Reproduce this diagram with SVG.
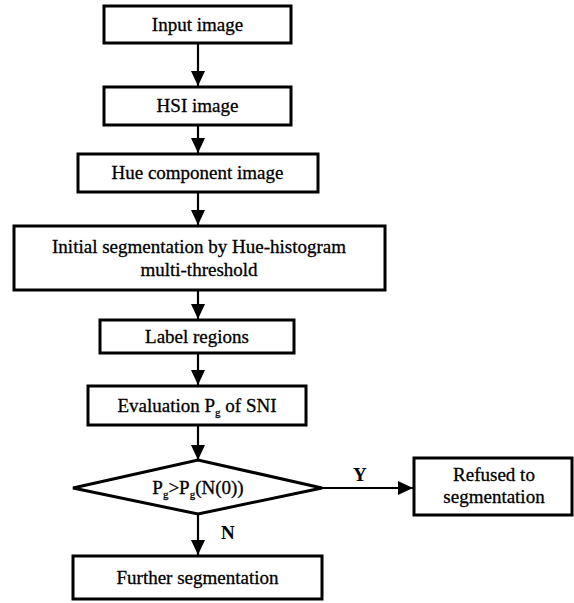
<svg xmlns="http://www.w3.org/2000/svg" width="574" height="603" viewBox="0 0 574 603">
<defs>
<style>
.box{fill:#fff;stroke:#000;stroke-width:3}
.t{font-family:'Liberation Serif','Times New Roman',serif;font-size:19px;fill:#000;stroke:#000;stroke-width:0.3;text-anchor:middle}
.lbl{font-family:'Liberation Serif','Times New Roman',serif;font-size:19px;font-weight:bold;fill:#000}
.sub{font-size:11px}
.c{fill:none;stroke:#000;stroke-width:2.2}
</style>
<marker id="ah" viewBox="0 0 10 10" refX="10" refY="5" markerWidth="15" markerHeight="14" markerUnits="userSpaceOnUse" orient="auto" preserveAspectRatio="none">
<path d="M0,0 L10,5 L0,10 z" fill="#000"/>
</marker>
</defs>
<rect width="574" height="603" fill="#fff"/>
<g id="connectors">
<line class="c" x1="198" y1="44" x2="198" y2="86" marker-end="url(#ah)"/>
<line class="c" x1="198" y1="126" x2="198" y2="153" marker-end="url(#ah)"/>
<line class="c" x1="198" y1="193" x2="198" y2="225" marker-end="url(#ah)"/>
<line class="c" x1="198" y1="291" x2="198" y2="319" marker-end="url(#ah)"/>
<line class="c" x1="198" y1="354" x2="198" y2="385" marker-end="url(#ah)"/>
<line class="c" x1="198" y1="426" x2="198" y2="460" marker-end="url(#ah)"/>
<line class="c" x1="322" y1="488" x2="413" y2="488" marker-end="url(#ah)"/>
<line class="c" x1="198" y1="514" x2="198" y2="555" marker-end="url(#ah)"/>
<text class="lbl" x="353" y="481">Y</text>
<text class="lbl" x="221" y="539">N</text>
</g>
<g id="input">
<rect class="box" x="104" y="6" width="187" height="37"/>
<text class="t" x="197.5" y="31">Input image</text>
</g>
<g id="hsi">
<rect class="box" x="104" y="87" width="187" height="38"/>
<text class="t" x="197.5" y="112">HSI image</text>
</g>
<g id="hue">
<rect class="box" x="78" y="154" width="240" height="38"/>
<text class="t" x="197.5" y="179">Hue component image</text>
</g>
<g id="initial">
<rect class="box" x="14" y="226" width="371" height="64"/>
<text class="t" x="199" y="253">Initial segmentation by Hue-histogram</text>
<text class="t" x="199" y="276">multi-threshold</text>
</g>
<g id="label">
<rect class="box" x="100" y="320" width="194" height="33"/>
<text class="t" x="197" y="343">Label regions</text>
</g>
<g id="evaluation">
<rect class="box" x="88" y="386" width="218" height="39"/>
<text class="t" x="197" y="412">Evaluation P<tspan class="sub" dy="4">g</tspan><tspan dy="-4"> of SNI</tspan></text>
</g>
<g id="decision">
<polygon class="box" points="73,488 198,460 322,488 198,514"/>
<text class="t" x="198" y="494">P<tspan class="sub" dy="4">g</tspan><tspan dy="-4">&gt;P</tspan><tspan class="sub" dy="4">g</tspan><tspan dy="-4">(N(0))</tspan></text>
</g>
<g id="refused">
<rect class="box" x="414" y="458" width="158" height="57"/>
<text class="t" x="494" y="481">Refused to</text>
<text class="t" x="494" y="503">segmentation</text>
</g>
<g id="further">
<rect class="box" x="73" y="556" width="249" height="43"/>
<text class="t" x="197.5" y="584">Further segmentation</text>
</g>
</svg>
